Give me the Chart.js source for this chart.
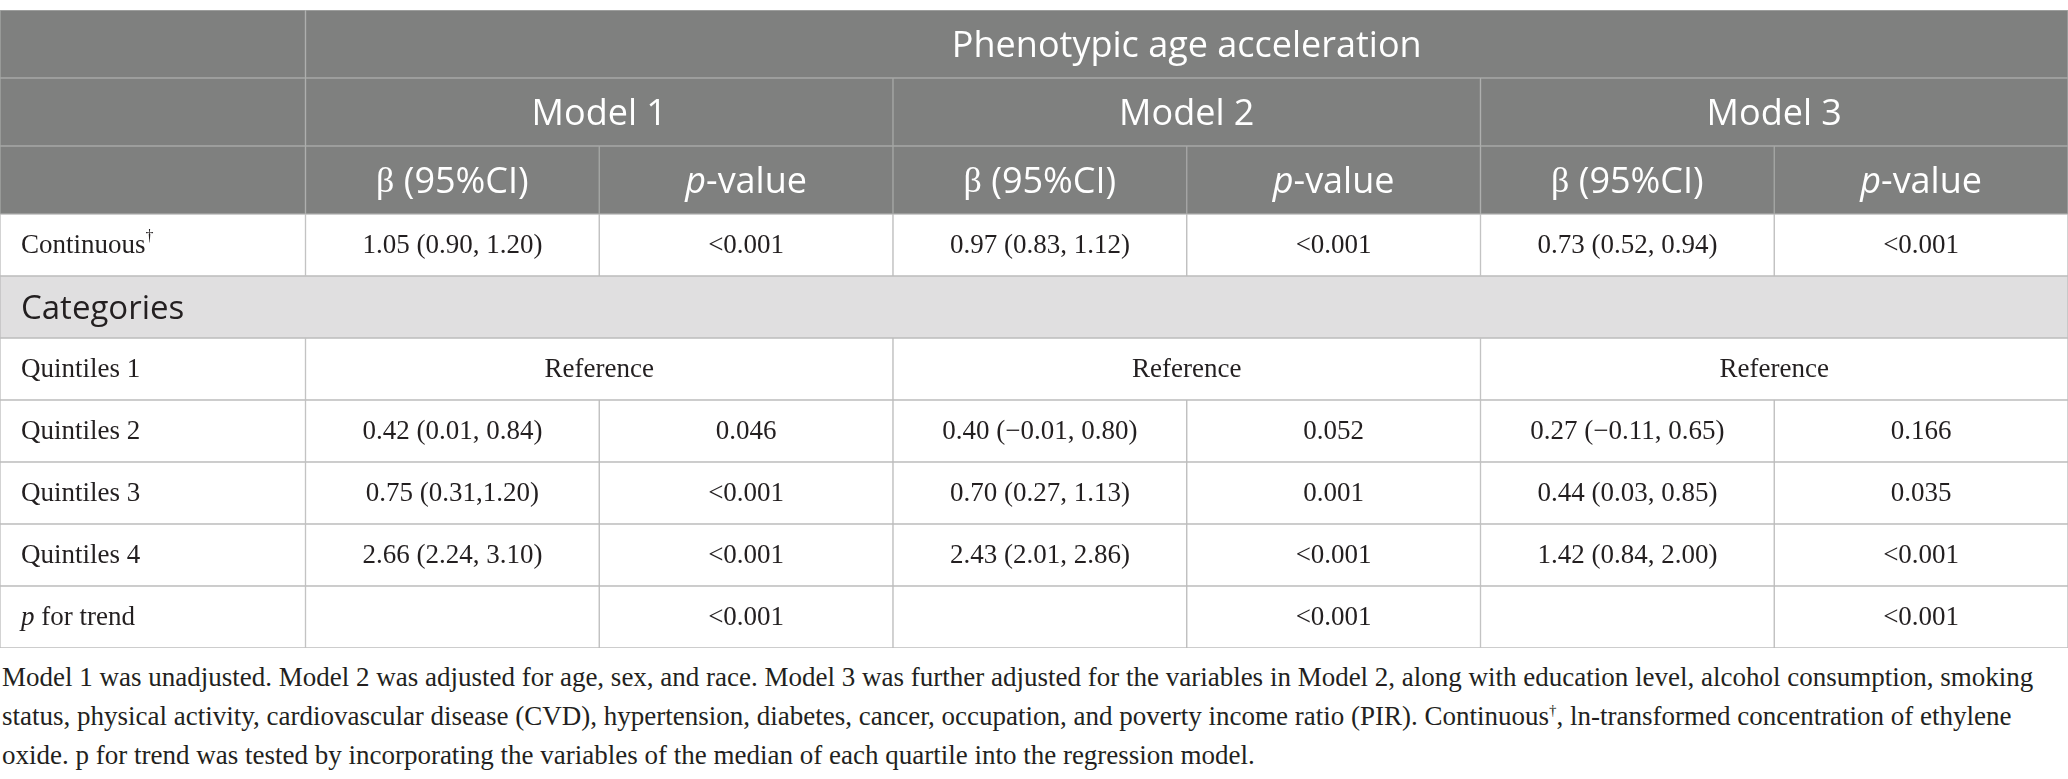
<!DOCTYPE html>
<html>
<head>
<meta charset="utf-8">
<script src="https://cdn.jsdelivr.net/npm/chart.js@4.4.1/dist/chart.umd.min.js"></script>
<style>
  html, body { margin: 0; padding: 0; background: #fff; }
  .head { position: relative; width: 2068px; height: 214px; }
  .body { position: relative; width: 2068px; height: 441px; }
  .note {
    font-family: 'Liberation Serif', serif;
    font-size: 27px;
    line-height: 39px;
    color: #231f20;
    padding: 3px 0 0 2px;
    white-space: nowrap;
  }
  .note sup { font-size: 15px; line-height: 0; }
</style>
</head>
<body>
<div class="head"><canvas class="chart-head"></canvas></div>
<div class="body"><canvas class="chart-body"></canvas></div>
<div class="note">
Model 1 was unadjusted. Model 2 was adjusted for age, sex, and race. Model 3 was further adjusted for the variables in Model 2, along with education level, alcohol consumption, smoking<br>
status, physical activity, cardiovascular disease (CVD), hypertension, diabetes, cancer, occupation, and poverty income ratio (PIR). Continuous<sup>†</sup>, ln-transformed concentration of ethylene<br>
oxide. p for trend was tested by incorporating the variables of the median of each quartile into the regression model.
</div>
<script>
// header rows and body rows, top to bottom
const headRows = ['head1', 'head2', 'head3'];
const bodyRows = ['continuous', 'categories', 'q1', 'q2', 'q3', 'q4', 'trend'];

const title = 'Phenotypic age acceleration';
const models = ['Model 1', 'Model 2', 'Model 3'];
const subHeads = ['β (95%CI)', '*p*-value'];

const rowLabels = ['Continuous†', 'Quintiles 1', 'Quintiles 2', 'Quintiles 3', 'Quintiles 4', '*p* for trend'];
const groupLabel = 'Categories';

// estimates per model: continuous, Q2, Q3, Q4 (Q1 is the reference)
const beta1 = ['1.05 (0.90, 1.20)', '0.42 (0.01, 0.84)', '0.75 (0.31,1.20)', '2.66 (2.24, 3.10)'];
const beta2 = ['0.97 (0.83, 1.12)', '0.40 (−0.01, 0.80)', '0.70 (0.27, 1.13)', '2.43 (2.01, 2.86)'];
const beta3 = ['0.73 (0.52, 0.94)', '0.27 (−0.11, 0.65)', '0.44 (0.03, 0.85)', '1.42 (0.84, 2.00)'];
const pval1 = ['<0.001', '0.046', '<0.001', '<0.001'];
const pval2 = ['<0.001', '0.052', '0.001', '<0.001'];
const pval3 = ['<0.001', '0.166', '0.035', '<0.001'];
const trendP = ['<0.001', '<0.001', '<0.001'];

const betas = [beta1, beta2, beta3];
const pvals = [pval1, pval2, pval3];

// the first column is a bit wider than the others
const xMin = -0.04;

const cell = (c0, c1, y, text, align) => ({ x: [c0, c1], y: y, text: text || '', align: align || 'center' });

const headCells = [];
headCells.push(cell(xMin, 1, 'head1'), cell(1, 7, 'head1', title));
headCells.push(cell(xMin, 1, 'head2'));
models.forEach((m, i) => headCells.push(cell(1 + i * 2, 3 + i * 2, 'head2', m)));
headCells.push(cell(xMin, 1, 'head3'));
models.forEach((m, i) => {
  headCells.push(cell(1 + i * 2, 2 + i * 2, 'head3', subHeads[0]));
  headCells.push(cell(2 + i * 2, 3 + i * 2, 'head3', subHeads[1]));
});

const catCells = [cell(xMin, 7, 'categories', groupLabel, 'left')];

const bodyCells = [];
bodyRows.filter(r => r !== 'categories').forEach((r, k) => {
  bodyCells.push(cell(xMin, 1, r, rowLabels[k], 'left'));
  models.forEach((m, i) => {
    const c = 1 + i * 2;
    if (r === 'q1') {
      bodyCells.push(cell(c, c + 2, r, 'Reference'));
    } else if (r === 'trend') {
      bodyCells.push(cell(c, c + 1, r, ''));
      bodyCells.push(cell(c + 1, c + 2, r, trendP[i]));
    } else {
      const j = r === 'continuous' ? 0 : k - 1;
      bodyCells.push(cell(c, c + 1, r, betas[i][j]));
      bodyCells.push(cell(c + 1, c + 2, r, pvals[i][j]));
    }
  });
});

// draws "*italic*" parts, a raised dagger and a serif beta
function drawRich(ctx, str, x, y, align, font) {
  const parts = [];
  str.split('*').forEach((s, i) => {
    if (!s) return;
    s.split(/(†|β)/).forEach(t => {
      if (t) parts.push({ t: t, italic: i % 2 === 1, sup: t === '†', serif: t === 'β' });
    });
  });
  const fontFor = p => (p.italic ? 'italic ' : '') +
    (p.sup ? Math.round(font.size * 0.6) : font.size) + 'px ' +
    (p.serif ? "'Liberation Serif', serif" : font.family);
  let total = 0;
  parts.forEach(p => { ctx.font = fontFor(p); p.w = ctx.measureText(p.t).width; total += p.w; });
  let cx = align === 'left' ? x : x - total / 2;
  parts.forEach(p => {
    ctx.font = fontFor(p);
    ctx.fillText(p.t, cx, p.sup ? y - font.size * 0.33 : y);
    cx += p.w;
  });
}

const cellText = {
  id: 'cellText',
  afterDatasetsDraw(chart) {
    const ctx = chart.ctx;
    ctx.save();
    ctx.textBaseline = 'middle';
    ctx.textAlign = 'left';
    chart.data.datasets.forEach((ds, di) => {
      const meta = chart.getDatasetMeta(di);
      meta.data.forEach((el, i) => {
        const raw = ds.data[i];
        if (!raw.text) return;
        const left = Math.min(el.x, el.base);
        const x = raw.align === 'left' ? left + 21 : (el.x + el.base) / 2;
        ctx.fillStyle = ds.textColor;
        drawRich(ctx, raw.text, x, el.y + ds.textShift, raw.align, ds.textFont);
      });
    });
    ctx.restore();
  }
};

function tableChart(canvas, rows, datasets, padding) {
  return new Chart(canvas, {
    type: 'bar',
    data: { labels: rows, datasets: datasets },
    options: {
      indexAxis: 'y',
      responsive: true,
      maintainAspectRatio: false,
      animation: false,
      grouped: false,
      barPercentage: 1,
      categoryPercentage: 1,
      borderWidth: 1,
      borderSkipped: false,
      layout: { padding: padding },
      plugins: { legend: { display: false }, tooltip: { enabled: false } },
      scales: {
        x: { type: 'linear', min: xMin, max: 7, display: false },
        y: { type: 'category', display: false }
      }
    },
    plugins: [cellText]
  });
}

tableChart(document.querySelector('.chart-head'), headRows, [
  {
    data: headCells,
    backgroundColor: '#7f807f',
    borderColor: '#a6a7a6',
    textColor: '#ffffff',
    textFont: { size: 36, family: "'Open Sans', sans-serif" },
    textShift: 3
  }
], { top: 10, bottom: 0, left: 0, right: 0 });

tableChart(document.querySelector('.chart-body'), bodyRows, [
  {
    data: catCells,
    backgroundColor: '#e0dfe0',
    borderColor: '#bdbdbd',
    textColor: '#231f20',
    textFont: { size: 33, family: "'Open Sans', sans-serif" },
    textShift: 3
  },
  {
    data: bodyCells,
    backgroundColor: '#ffffff',
    borderColor: '#bdbdbd',
    textColor: '#231f20',
    textFont: { size: 27, family: "'Liberation Serif', serif" },
    textShift: 1
  }
], { top: 0, bottom: 7, left: 0, right: 0 });
</script>
</body>
</html>
